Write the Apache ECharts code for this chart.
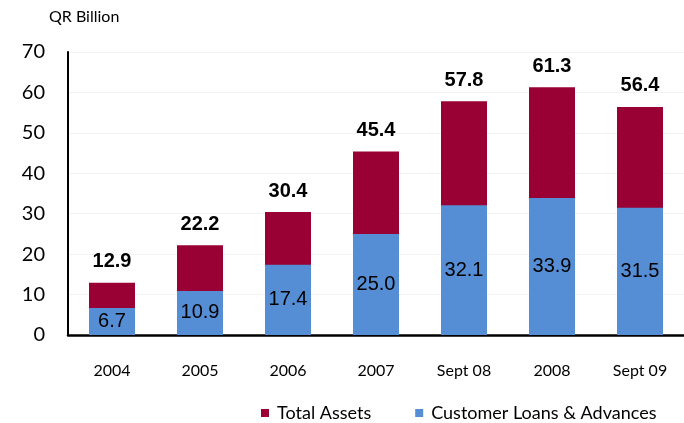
<!DOCTYPE html>
<html>
<head>
<meta charset="utf-8">
<script src="https://cdn.jsdelivr.net/npm/echarts@6/dist/echarts.min.js"></script>
<style>
  html, body { margin: 0; padding: 0; background: #fff; }
  #chart { width: 684px; height: 423px; }
</style>
</head>
<body>
<div id="chart"></div>
<script>
const categories = ['2004', '2005', '2006', '2007', 'Sept 08', '2008', 'Sept 09']
const totalAssets = [12.9, 22.2, 30.4, 45.4, 57.8, 61.3, 56.4]
const customerLoans = [6.7, 10.9, 17.4, 25.0, 32.1, 33.9, 31.5]

const chart = echarts.init(document.getElementById('chart'))

chart.setOption({
  animation: false,
  title: {
    text: 'QR Billion',
    left: 44,
    top: 4,
    textStyle: { fontFamily: 'Lato', fontSize: 16, fontWeight: 'normal', color: '#000' }
  },
  grid: { left: 68, top: 52, width: 621, height: 283 },
  legend: {
    top: 399,
    left: 256,
    itemWidth: 8,
    itemHeight: 8,
    itemGap: 44,
    icon: 'rect',
    textStyle: { fontFamily: 'Lato', fontSize: 18, color: '#000', padding: [0, 0, 0, 3] },
    data: ['Total Assets', 'Customer Loans & Advances']
  },
  xAxis: {
    type: 'category',
    data: categories,
    axisTick: { show: false },
    axisLine: { lineStyle: { color: '#000', width: 2.5 } },
    axisLabel: { fontFamily: 'Lato', fontSize: 16, color: '#000', margin: 28 }
  },
  yAxis: {
    type: 'value',
    min: 0,
    max: 70,
    interval: 10,
    axisLine: { show: true, lineStyle: { color: '#000', width: 2 } },
    axisTick: { show: false },
    splitLine: { lineStyle: { color: '#f2f2f2' } },
    axisLabel: { fontFamily: 'Lato', fontSize: 20, color: '#000', margin: 23 }
  },
  series: [
    {
      name: 'Total Assets',
      type: 'bar',
      data: totalAssets,
      barWidth: 46,
      z: 1,
      itemStyle: { color: '#990033' },
      label: {
        show: true,
        position: 'top',
        distance: 11,
        fontFamily: 'Liberation Sans',
        fontSize: 20,
        fontWeight: 'bold',
        color: '#000',
        formatter: p => p.value.toFixed(1)
      }
    },
    {
      name: 'Customer Loans & Advances',
      type: 'bar',
      data: customerLoans,
      barWidth: 46,
      barGap: '-100%',
      z: 2,
      itemStyle: { color: '#558ED5' },
      label: {
        show: true,
        position: 'inside',
        fontFamily: 'Liberation Sans',
        fontSize: 20,
        color: '#000',
        formatter: p => p.value.toFixed(1)
      }
    }
  ]
})
</script>
</body>
</html>
